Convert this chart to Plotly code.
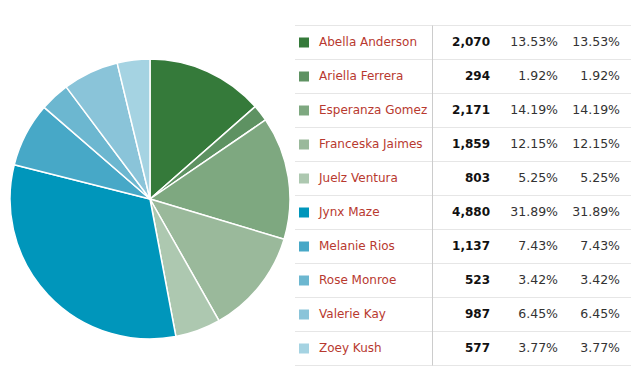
import plotly.graph_objects as go

names = ["Abella Anderson", "Ariella Ferrera", "Esperanza Gomez", "Franceska Jaimes",
         "Juelz Ventura", "Jynx Maze", "Melanie Rios", "Rose Monroe", "Valerie Kay", "Zoey Kush"]
values = [2070, 294, 2171, 1859, 803, 4880, 1137, 523, 987, 577]
pct1 = ["13.53%", "1.92%", "14.19%", "12.15%", "5.25%", "31.89%", "7.43%", "3.42%", "6.45%", "3.77%"]
pct2 = ["13.53%", "1.92%", "14.19%", "12.15%", "5.25%", "31.89%", "7.43%", "3.42%", "6.45%", "3.77%"]
colors = ["#357a3a", "#5e9262", "#7ea880", "#9ab99b", "#adc8b0",
          "#0096bb", "#47a8c7", "#6cb7d0", "#8ac4d9", "#a5d3e2"]

# page body has an 8px margin; the figure is shrunk and shifted to compensate
PAD = 8
W, H = 640 - PAD, 390 - PAD
rows = list(range(len(names)))
row0_px, row_h = 42.5 - PAD, 34


def px(v):
    return v - PAD


fig = go.Figure()
fig.add_trace(go.Pie(
    values=values, labels=names, sort=False, direction="clockwise", rotation=0,
    marker=dict(colors=colors, line=dict(color="white", width=1.5)),
    textinfo="none", hoverinfo="label+value+percent", showlegend=False,
    domain=dict(x=[px(10) / W, px(290) / W],
                y=[(H - px(339)) / H, (H - px(59)) / H]),
))

font = "DejaVu Sans, Verdana, sans-serif"
fs = 12
fs_pct = 12.5
fig.add_trace(go.Scatter(x=[px(304)] * len(rows), y=rows, mode="markers",
                         marker=dict(symbol="square", size=10, color=colors, line=dict(width=0)),
                         showlegend=False, hoverinfo="skip"))
fig.add_trace(go.Scatter(x=[px(319)] * len(rows), y=rows, mode="text", text=names,
                         textposition="middle right",
                         textfont=dict(family=font, size=fs, color="#b8392f"),
                         showlegend=False, hoverinfo="skip"))
fig.add_trace(go.Scatter(x=[px(490)] * len(rows), y=rows, mode="text",
                         text=[f"<b>{v:,}</b>" for v in values],
                         textposition="middle left",
                         textfont=dict(family=font, size=fs, color="#111111"),
                         showlegend=False, hoverinfo="skip"))
fig.add_trace(go.Scatter(x=[px(558)] * len(rows), y=rows, mode="text", text=pct1,
                         textposition="middle left",
                         textfont=dict(family=font, size=fs_pct, color="#333333"),
                         showlegend=False, hoverinfo="skip"))
fig.add_trace(go.Scatter(x=[px(620)] * len(rows), y=rows, mode="text", text=pct2,
                         textposition="middle left",
                         textfont=dict(family=font, size=fs_pct, color="#333333"),
                         showlegend=False, hoverinfo="skip"))

shapes = []
for i in range(len(names) + 1):
    shapes.append(dict(type="line", xref="x", yref="y", x0=px(295), x1=px(631),
                       y0=i - 0.5, y1=i - 0.5, line=dict(color="#e6e6e6", width=1)))
shapes.append(dict(type="line", xref="x", yref="y", x0=px(432.5), x1=px(432.5),
                   y0=-0.5, y1=len(names) - 0.5, line=dict(color="#cccccc", width=1)))

ymin = (0 - row0_px) / row_h
ymax = (H - row0_px) / row_h
fig.update_layout(
    width=W, height=H, margin=dict(l=0, r=0, t=0, b=0),
    paper_bgcolor="white", plot_bgcolor="white",
    xaxis=dict(range=[0, W], domain=[0, 1], visible=False, fixedrange=True),
    yaxis=dict(range=[ymax, ymin], domain=[0, 1], visible=False, fixedrange=True),
    shapes=shapes,
)
fig.write_html("out.html")
